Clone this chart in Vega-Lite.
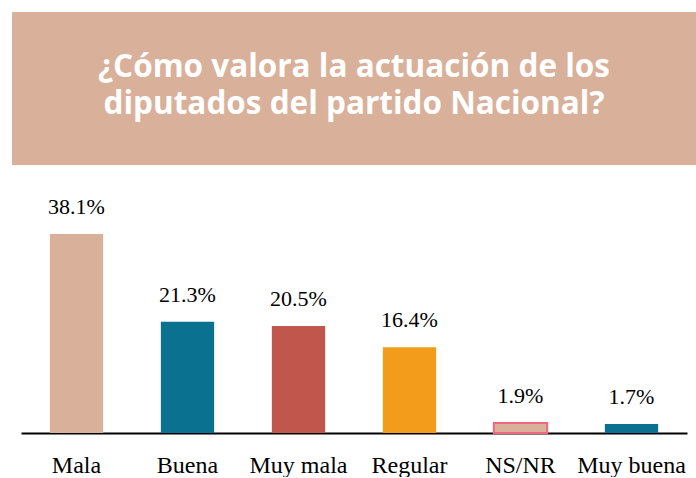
{
  "$schema": "https://vega.github.io/schema/vega-lite/v6.json",
  "padding": {"left": 12, "top": 12, "right": 0, "bottom": 0},
  "background": "white",
  "config": {"view": {"stroke": null}},
  "center": true,
  "spacing": 31,
  "vconcat": [
    {
      "width": 684,
      "height": 153,
      "view": {"fill": "#D9B099", "stroke": null},
      "data": {"values": [{"t": "¿Cómo valora la actuación de los\ndiputados del partido Nacional?"}]},
      "mark": {"type": "text", "font": "Open Sans", "fontWeight": "bold", "fontSize": 31.5, "color": "white", "lineBreak": "\n", "lineHeight": 37, "align": "center", "baseline": "alphabetic", "dy": -11.5},
      "encoding": {"text": {"field": "t"}}
    },
    {
      "width": 666,
      "height": 235,
      "data": {"values": [
        {"cat": "Mala", "v": 38.1},
        {"cat": "Buena", "v": 21.3},
        {"cat": "Muy mala", "v": 20.5},
        {"cat": "Regular", "v": 16.4},
        {"cat": "NS/NR", "v": 1.9},
        {"cat": "Muy buena", "v": 1.7}
      ]},
      "transform": [{"calculate": "format(datum.v, '.1f') + '%'", "as": "label"}],
      "encoding": {
        "x": {
          "field": "cat", "type": "nominal", "sort": null,
          "scale": {"paddingInner": 0.52, "paddingOuter": 0.26},
          "axis": {"title": null, "domainColor": "black", "domainWidth": 2, "ticks": false, "labelPadding": 39, "labelFont": "Liberation Serif", "labelFontSize": 24, "labelColor": "black", "labelAngle": 0, "labelBaseline": "alphabetic"}
        },
        "y": {"field": "v", "type": "quantitative", "scale": {"domain": [0, 45], "nice": false}, "axis": null}
      },
      "layer": [
        {
          "mark": {"type": "bar", "strokeWidth": 2},
          "encoding": {
            "color": {"field": "cat", "type": "nominal", "legend": null,
              "scale": {"domain": ["Mala", "Buena", "Muy mala", "Regular", "NS/NR", "Muy buena"],
                        "range": ["#D9B099", "#0A7191", "#C0564C", "#F39C1C", "#D9B099", "#0A7191"]}},
            "stroke": {"condition": {"test": "datum.cat === 'NS/NR'", "value": "#F0687F"}, "value": null}
          }
        },
        {
          "mark": {"type": "text", "font": "Liberation Serif", "fontSize": 22, "color": "black", "dy": -20, "baseline": "alphabetic"},
          "encoding": {"text": {"field": "label"}}
        }
      ]
    }
  ]
}
